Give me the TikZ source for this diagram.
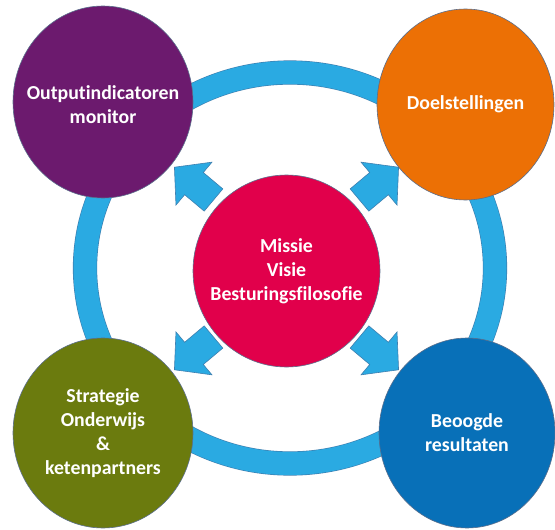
\documentclass[tikz,border=0pt]{standalone}
\usepackage{fontspec}
\setmainfont{Carlito}[Ligatures={NoCommon}]
\usetikzlibrary{shapes.geometric,calc}
\definecolor{cpurple}{HTML}{6C1A6E}
\definecolor{corange}{HTML}{EC7005}
\definecolor{cgreen}{HTML}{6B7B0E}
\definecolor{cblue}{HTML}{0870B8}
\definecolor{cred}{HTML}{E1004B}
\definecolor{ringblue}{HTML}{2AAAE2}
\definecolor{edge}{HTML}{5A6E8C}
\definecolor{arrowedge}{HTML}{3D7FB0}
\begin{document}
\begin{tikzpicture}[x=1pt,y=-1pt,
  bubble/.style={ellipse, draw=edge, line width=0.6pt, inner sep=0pt},
  txt/.style={align=center, text=white, inner sep=0pt,
    font=\bfseries\fontsize{19.8}{24}\selectfont},
  ringstyle/.style={ellipse, draw=arrowedge, line width=0.6pt, double=ringblue,
    double distance=23pt, inner sep=0pt},
  pics/blockarrow/.style={code={
    \filldraw[fill=ringblue, draw=arrowedge, line width=0.6pt]
      (0,-14.5) -- (25.5,-14.5) -- (25.5,-28) -- (51,0) -- (25.5,28)
      -- (25.5,14.5) -- (0,14.5) -- cycle;}}]
\useasboundingbox (0,0) rectangle (555,530);
\fill[white] (0,0) rectangle (555,530);

% ring
\node[ringstyle, minimum width=410pt, minimum height=391pt] (ring) at (290,268) {};

% centre
\node[bubble, fill=cred, minimum width=187pt, minimum height=192pt,
  label={[txt]center:Missie\\Visie\\Besturingsfilosofie}] (C) at (286.5,271) {};

% arrows
\coordinate (aNW) at ($(C)+(-73,-71)$);
\coordinate (aNE) at ($(C)+(73,-71)$);
\coordinate (aSW) at ($(C)+(-73,66)$);
\coordinate (aSE) at ($(C)+(73,66)$);
\path (aNW) pic[rotate=140] {blockarrow};
\path (aNE) pic[rotate=40] {blockarrow};
\path (aSW) pic[rotate=220] {blockarrow};
\path (aSE) pic[rotate=320] {blockarrow};

% corner circles
\node[bubble, fill=cpurple, minimum width=180pt, minimum height=192pt,
  label={[txt, yshift=-3pt]center:Outputindicatoren\\monitor}] (P) at (103,102) {};
\node[bubble, fill=corange, minimum width=177pt, minimum height=191pt,
  label={[txt]center:Doelstellingen}] (O) at (465.5,104.5) {};
\node[bubble, fill=cgreen, minimum width=180pt, minimum height=190pt,
  label={[txt]center:Strategie\\Onderwijs\\\&\\ketenpartners}] (G) at (103,433) {};
\node[bubble, fill=cblue, minimum width=176pt, minimum height=190pt,
  label={[txt]center:Beoogde\\resultaten}] (B) at (467,433) {};
\end{tikzpicture}
\end{document}
